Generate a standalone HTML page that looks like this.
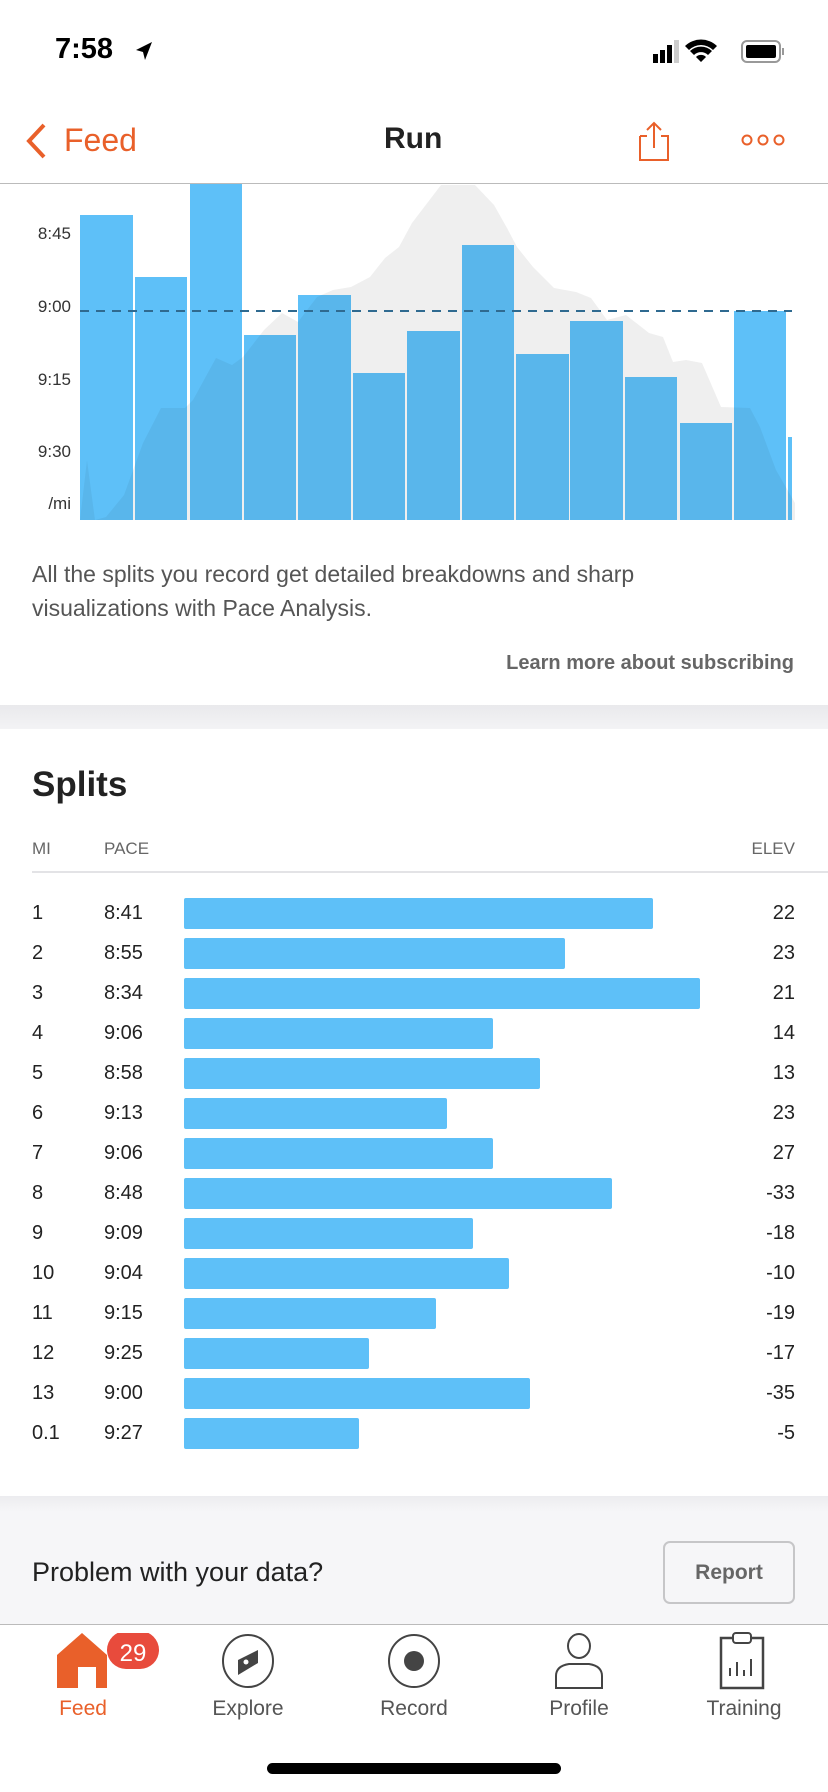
<!DOCTYPE html>
<html><head><meta charset="utf-8"><style>
*{margin:0;padding:0;box-sizing:border-box}
body{width:828px;height:1792px;background:#fff;font-family:"Liberation Sans",sans-serif;position:relative;overflow:hidden;color:#222}
.a{position:absolute;white-space:nowrap}
.row{position:absolute;left:0;width:828px;height:40px;font-size:20px;color:#222}
.row span{position:absolute;top:0;line-height:31px}
.row i{position:absolute;left:184px;top:0;height:31px;background:#5ec0f8;border-radius:2px}
.tab{position:absolute;top:1697px;font-size:21px;color:#555;width:120px;text-align:center}
</style></head><body>
<div class="a" style="left:55px;top:33px;font-size:29px;font-weight:bold;color:#000">7:58</div>
<svg class="a" style="left:134px;top:40px" width="20" height="22"><polygon points="18,2 2,10 9,12 11,20" fill="#000"/></svg>
<svg class="a" style="left:650px;top:38px" width="150" height="30">
<rect x="3" y="16" width="5" height="9" fill="#000"/><rect x="10" y="12" width="5" height="13" fill="#000"/><rect x="17" y="7" width="5" height="18" fill="#000"/><rect x="24" y="2" width="5" height="23" fill="#ccc"/>
<path d="M51 24 L46 19 A7 7 0 0 1 56 19Z M40 13 A16 16 0 0 1 62 13 L58 17 A10 10 0 0 0 44 17Z M35 8 A23 23 0 0 1 67 8 L63 12 A17 17 0 0 0 39 12Z" fill="#000"/>
<rect x="92" y="3" width="38" height="21" rx="5" fill="none" stroke="#999" stroke-width="2"/><rect x="96" y="7" width="30" height="13" rx="2" fill="#000"/><rect x="132" y="10" width="2" height="7" fill="#999"/>
</svg>
<svg class="a" style="left:24px;top:122px" width="24" height="38"><polyline points="20,3 5,19 20,35" fill="none" stroke="#e9602a" stroke-width="4"/></svg>
<div class="a" style="left:64px;top:122px;font-size:32px;color:#e9602a">Feed</div>
<div class="a" style="left:384px;top:122px;font-size:30px;font-weight:bold;color:#222">Run</div>
<svg class="a" style="left:636px;top:120px" width="36" height="42"><path d="M4 16 H11 M25 16 H32 V40 H4 V16" fill="none" stroke="#e9602a" stroke-width="2"/><path d="M18 28 V3 M11 10 L18 3 L25 10" fill="none" stroke="#e9602a" stroke-width="2"/></svg>
<svg class="a" style="left:740px;top:130px" width="50" height="20"><circle cx="7" cy="10" r="4.5" fill="none" stroke="#e9602a" stroke-width="2"/><circle cx="23" cy="10" r="4.5" fill="none" stroke="#e9602a" stroke-width="2"/><circle cx="39" cy="10" r="4.5" fill="none" stroke="#e9602a" stroke-width="2"/></svg>
<div class="a" style="left:0;top:183px;width:828px;height:1px;background:#bbb"></div>

<svg class="a" style="left:0;top:184px" width="828" height="340" viewBox="0 184 828 340">
<defs><clipPath id="bc">
<rect x="80" y="215" width="53" height="305"/><rect x="135" y="277" width="52" height="243"/><rect x="190" y="184" width="52" height="336"/><rect x="244" y="335" width="52" height="185"/><rect x="298" y="295" width="53" height="225"/><rect x="353" y="373" width="52" height="147"/><rect x="407" y="331" width="53" height="189"/><rect x="462" y="245" width="52" height="275"/><rect x="516" y="354" width="53" height="166"/><rect x="570" y="321" width="53" height="199"/><rect x="625" y="377" width="52" height="143"/><rect x="680" y="423" width="52" height="97"/><rect x="734" y="311" width="52" height="209"/><rect x="788" y="437" width="4" height="83"/>
</clipPath></defs>
<polygon fill="#efefef" points="80,520 87,460 95,520 106,517 124,495 143,443 161,408 185,408 193,400 216,358 232,365 243,357 264,330 282,313 298,322 317,297 333,290 351,287 370,277 385,258 399,247 412,223 441,185 475,185 494,205 507,228 517,247 533,267 554,288 576,292 591,298 607,320 626,315 649,333 663,337 673,362 686,360 702,363 721,407 750,408 760,427 776,470 795,503 795,520"/>
<g fill="#5ec0f8">
<rect x="80" y="215" width="53" height="305"/><rect x="135" y="277" width="52" height="243"/><rect x="190" y="184" width="52" height="336"/><rect x="244" y="335" width="52" height="185"/><rect x="298" y="295" width="53" height="225"/><rect x="353" y="373" width="52" height="147"/><rect x="407" y="331" width="53" height="189"/><rect x="462" y="245" width="52" height="275"/><rect x="516" y="354" width="53" height="166"/><rect x="570" y="321" width="53" height="199"/><rect x="625" y="377" width="52" height="143"/><rect x="680" y="423" width="52" height="97"/><rect x="734" y="311" width="52" height="209"/><rect x="788" y="437" width="4" height="83"/>
</g>
<polygon clip-path="url(#bc)" fill="#000" fill-opacity="0.05" points="80,520 87,460 95,520 106,517 124,495 143,443 161,408 185,408 193,400 216,358 232,365 243,357 264,330 282,313 298,322 317,297 333,290 351,287 370,277 385,258 399,247 412,223 441,185 475,185 494,205 507,228 517,247 533,267 554,288 576,292 591,298 607,320 626,315 649,333 663,337 673,362 686,360 702,363 721,407 750,408 760,427 776,470 795,503 795,520"/>
<line x1="80" y1="311" x2="792" y2="311" stroke="#2f6a90" stroke-width="2" stroke-dasharray="9,7"/>
<g font-size="17" fill="#333" text-anchor="end">
<text x="71" y="239">8:45</text><text x="71" y="312">9:00</text><text x="71" y="385">9:15</text><text x="71" y="457">9:30</text><text x="71" y="509">/mi</text></g>
</svg>

<div class="a" style="left:32px;top:557px;font-size:23px;color:#555;line-height:34px">All the splits you record get detailed breakdowns and sharp<br>visualizations with Pace Analysis.</div>
<div class="a" style="right:34px;top:652px;font-size:20px;font-weight:bold;color:#666">Learn more about subscribing</div>
<div class="a" style="left:0;top:705px;width:828px;height:24px;background:linear-gradient(#e9e9ec,#f3f3f5)"></div>
<div class="a" style="left:32px;top:765px;font-size:35px;font-weight:bold;color:#222">Splits</div>
<div class="a" style="left:32px;top:839px;font-size:17px;color:#666">MI</div>
<div class="a" style="left:104px;top:839px;font-size:17px;color:#666">PACE</div>
<div class="a" style="right:33px;top:839px;font-size:17px;color:#666">ELEV</div>
<div class="a" style="left:32px;top:871px;width:796px;height:2px;background:#e3e3e6"></div>

<div class="row" style="top:898px"><span style="left:32px">1</span><span style="left:104px">8:41</span><i style="width:469px"></i><span style="right:33px">22</span></div>
<div class="row" style="top:938px"><span style="left:32px">2</span><span style="left:104px">8:55</span><i style="width:381px"></i><span style="right:33px">23</span></div>
<div class="row" style="top:978px"><span style="left:32px">3</span><span style="left:104px">8:34</span><i style="width:516px"></i><span style="right:33px">21</span></div>
<div class="row" style="top:1018px"><span style="left:32px">4</span><span style="left:104px">9:06</span><i style="width:309px"></i><span style="right:33px">14</span></div>
<div class="row" style="top:1058px"><span style="left:32px">5</span><span style="left:104px">8:58</span><i style="width:356px"></i><span style="right:33px">13</span></div>
<div class="row" style="top:1098px"><span style="left:32px">6</span><span style="left:104px">9:13</span><i style="width:263px"></i><span style="right:33px">23</span></div>
<div class="row" style="top:1138px"><span style="left:32px">7</span><span style="left:104px">9:06</span><i style="width:309px"></i><span style="right:33px">27</span></div>
<div class="row" style="top:1178px"><span style="left:32px">8</span><span style="left:104px">8:48</span><i style="width:428px"></i><span style="right:33px">-33</span></div>
<div class="row" style="top:1218px"><span style="left:32px">9</span><span style="left:104px">9:09</span><i style="width:289px"></i><span style="right:33px">-18</span></div>
<div class="row" style="top:1258px"><span style="left:32px">10</span><span style="left:104px">9:04</span><i style="width:325px"></i><span style="right:33px">-10</span></div>
<div class="row" style="top:1298px"><span style="left:32px">11</span><span style="left:104px">9:15</span><i style="width:252px"></i><span style="right:33px">-19</span></div>
<div class="row" style="top:1338px"><span style="left:32px">12</span><span style="left:104px">9:25</span><i style="width:185px"></i><span style="right:33px">-17</span></div>
<div class="row" style="top:1378px"><span style="left:32px">13</span><span style="left:104px">9:00</span><i style="width:346px"></i><span style="right:33px">-35</span></div>
<div class="row" style="top:1418px"><span style="left:32px">0.1</span><span style="left:104px">9:27</span><i style="width:175px"></i><span style="right:33px">-5</span></div>

<div class="a" style="left:0;top:1496px;width:828px;height:128px;background:linear-gradient(#ececef 0,#f6f6f8 16px)"></div>
<div class="a" style="left:32px;top:1557px;font-size:27px;color:#222">Problem with your data?</div>
<div class="a" style="left:663px;top:1541px;width:132px;height:63px;border:2px solid #c6c6c8;border-radius:7px;font-size:21px;font-weight:bold;color:#666;text-align:center;line-height:59px">Report</div>
<div class="a" style="left:0;top:1624px;width:828px;height:1px;background:#bbb"></div>

<svg class="a" style="left:55px;top:1633px" width="105" height="56"><polygon points="2,22 27,0 52,22 52,55 41,55 41,34 23,34 23,55 2,55" fill="#e9602a"/><rect x="52" y="-2" width="52" height="38" rx="19" fill="#e84b3c"/><text x="78" y="28" font-size="24" fill="#fff" text-anchor="middle" font-family="Liberation Sans">29</text></svg>
<svg class="a" style="left:221px;top:1633px" width="54" height="56"><ellipse cx="27" cy="28" rx="25" ry="26" fill="none" stroke="#444" stroke-width="2"/><polygon points="37,17 17,27 17,42 37,30" fill="#444"/><circle cx="25" cy="29" r="2.5" fill="#fff"/></svg>
<svg class="a" style="left:387px;top:1633px" width="54" height="56"><ellipse cx="27" cy="28" rx="25" ry="26" fill="none" stroke="#444" stroke-width="2"/><circle cx="27" cy="28" r="10" fill="#444"/></svg>
<svg class="a" style="left:553px;top:1633px" width="52" height="56"><ellipse cx="26" cy="13" rx="11" ry="12" fill="none" stroke="#444" stroke-width="2"/><path d="M3 55 V43 Q3 33 16 31 H36 Q49 33 49 43 V55Z" fill="none" stroke="#444" stroke-width="2"/></svg>
<svg class="a" style="left:718px;top:1632px" width="48" height="58"><rect x="3" y="6" width="42" height="50" fill="none" stroke="#444" stroke-width="2.5"/><rect x="15" y="1" width="18" height="10" rx="3" fill="#fff" stroke="#444" stroke-width="2"/><path d="M12 44 V36 M19 44 V30 M26 44 V38 M33 44 V27" stroke="#444" stroke-width="2"/></svg>
<div class="tab" style="left:23px;color:#e9602a">Feed</div>
<div class="tab" style="left:188px">Explore</div>
<div class="tab" style="left:354px">Record</div>
<div class="tab" style="left:519px">Profile</div>
<div class="tab" style="left:684px">Training</div>
<div class="a" style="left:267px;top:1763px;width:294px;height:11px;border-radius:6px;background:#000"></div>
</body></html>
